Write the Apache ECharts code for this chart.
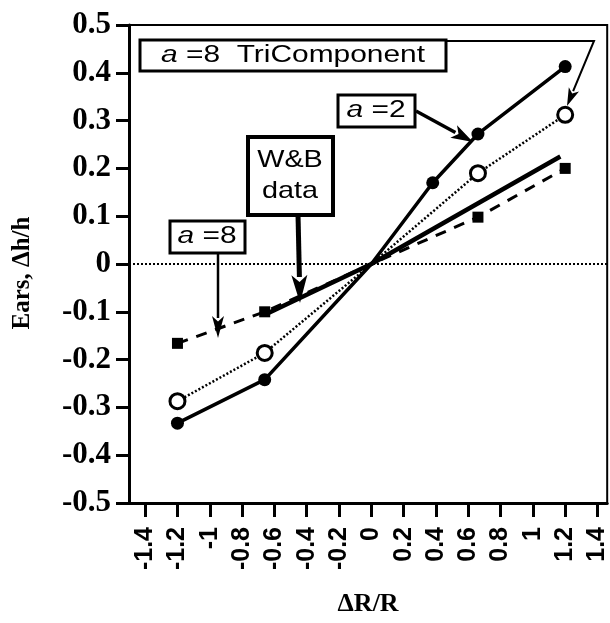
<!DOCTYPE html>
<html>
<head>
<meta charset="utf-8">
<script src="https://cdn.jsdelivr.net/npm/echarts@6/dist/echarts.min.js"></script>
<style>
  html, body { margin: 0; padding: 0; background: #fff; }
  #chart { width: 610px; height: 623px; }
</style>
</head>
<body>
<div id="chart"></div>
<script>
// values
const xTicks = [-1.4, -1.2, -1, -0.8, -0.6, -0.4, -0.2, 0, 0.2, 0.4, 0.6, 0.8, 1, 1.2, 1.4];

// a = 2 (filled circles, solid)
const a2X = [-1.2, -0.66, 0, 0.38, 0.66, 1.2];
const a2Y = [-0.333, -0.242, 0, 0.17, 0.272, 0.413];
// a = 8 (open circles, dotted)
const a8X = [-1.2, -0.66, 0, 0.66, 1.2];
const a8Y = [-0.287, -0.186, 0, 0.19, 0.312];
// W&B data (squares, dashed)
const wbX = [-1.2, -0.66, 0, 0.66, 1.2];
const wbY = [-0.166, -0.1, 0, 0.098, 0.2];
// a = 8 TriComponent (thick solid)
const triX = [-0.66, 0, 1.17];
const triY = [-0.106, 0, 0.225];

const pairs = (xs, ys) => xs.map((x, i) => [x, ys[i]]);
const hideOrigin = size => v => (v[0] === 0 ? 0 : size);

const SANS = "Liberation Sans";
const SERIF = "Liberation Serif";

// arrow: shaft + filled head
function arrow(pts, width, headLen, headW) {
  const n = pts.length;
  const [x1, y1] = pts[n - 2];
  const [x2, y2] = pts[n - 1];
  const len = Math.hypot(x2 - x1, y2 - y1);
  const ux = (x2 - x1) / len, uy = (y2 - y1) / len;
  const bx = x2 - ux * headLen, by = y2 - uy * headLen;
  const shaft = pts.slice(0, n - 1).concat([[bx + ux * 2, by + uy * 2]]);
  return [
    { type: "polyline", shape: { points: shaft }, style: { stroke: "#000", lineWidth: width, fill: null }, z: 20 },
    {
      type: "polygon",
      shape: { points: [[x2, y2], [bx - uy * headW / 2, by + ux * headW / 2], [bx + ux * headLen * 0.25, by + uy * headLen * 0.25], [bx + uy * headW / 2, by - ux * headW / 2]] },
      style: { fill: "#000" },
      z: 20,
    },
  ];
}

function box(x, y, w, h, bw) {
  return { type: "rect", shape: { x, y, width: w, height: h }, style: { fill: "#fff", stroke: "#000", lineWidth: bw }, z: 21 };
}

function label(cx, cy, text, size, sx) {
  return {
    type: "text",
    x: cx,
    y: cy,
    scaleX: sx,
    z: 22,
    style: {
      text,
      x: 0,
      y: 0,
      align: "center",
      verticalAlign: "middle",
      fontFamily: SANS,
      fontSize: size,
      fill: "#000",
      lineHeight: size * 1.3,
      rich: {
        i: { fontStyle: "italic", fontFamily: SANS, fontSize: size, fill: "#000" },
        n: { fontFamily: SANS, fontSize: size, fill: "#000" },
      },
    },
  };
}

const graphics = [].concat(
  // a=8 TriComponent label with bent arrow to open circle
  arrow([[446, 41], [594, 41], [567, 106]], 2, 18, 11),
  [box(140, 40, 306, 31, 3), label(293, 56, "{i|a}{n| =8  TriComponent}", 23, 1.3)],
  // a=2 label
  arrow([[416, 111], [473, 142]], 3.5, 22, 14),
  [box(338, 95, 77, 32, 3), label(376, 111, "{i|a}{n| =2}", 23, 1.3)],
  // W&B data label
  arrow([[298, 214], [300, 303]], 5, 28, 16),
  [box(248, 137, 85, 78, 4), label(290, 176, "W&B\ndata", 24, 1.2)],
  // a=8 label
  arrow([[218, 253], [218, 338]], 2.5, 22, 12),
  [box(170, 221, 75, 32, 3), label(207, 237, "{i|a}{n| =8}", 23, 1.3)]
);

const chart = echarts.init(document.getElementById("chart"), null, { renderer: "canvas" });
chart.setOption({
  backgroundColor: "#fff",
  animation: false,
  grid: {
    left: 129,
    right: 2,
    top: 25,
    bottom: 120,
    show: true,
    borderColor: "#000",
    borderWidth: 2,
  },
  xAxis: {
    type: "value",
    min: -1.5,
    max: 1.46,
    name: "ΔR/R",
    nameLocation: "middle",
    nameGap: 88,
    nameTextStyle: { fontFamily: SERIF, fontWeight: "bold", fontSize: 26, color: "#000" },
    axisLine: { onZero: false, lineStyle: { color: "#000", width: 3 } },
    axisTick: { show: true, length: 14, lineStyle: { color: "#000", width: 3 }, customValues: xTicks },
    axisLabel: {
      rotate: 90,
      margin: 24,
      fontFamily: SANS,
      fontWeight: "bold",
      fontSize: 25,
      color: "#000",
      customValues: xTicks,
    },
    splitLine: { show: false },
  },
  yAxis: {
    type: "value",
    min: -0.5,
    max: 0.5,
    interval: 0.1,
    name: "Ears, Δh/h",
    nameLocation: "middle",
    nameGap: 94,
    nameTextStyle: { fontFamily: SERIF, fontWeight: "bold", fontSize: 25, color: "#000", padding: [0, 18, 0, 0] },
    axisLine: { onZero: false, lineStyle: { color: "#000", width: 3 } },
    axisTick: { show: true, length: 13, lineStyle: { color: "#000", width: 3 } },
    axisLabel: { margin: 18, fontFamily: SERIF, fontWeight: "bold", fontSize: 31, color: "#000" },
    splitLine: { show: false },
  },
  series: [
    {
      name: "TriComponent a=8",
      type: "line",
      data: pairs(triX, triY),
      showSymbol: false,
      symbol: "none",
      lineStyle: { color: "#000", width: 4.5 },
      z: 3,
      markLine: {
        silent: true,
        symbol: "none",
        label: { show: false },
        lineStyle: { color: "#000", width: 2, type: [2, 2] },
        data: [{ yAxis: 0 }],
      },
    },
    {
      name: "W&B data",
      type: "line",
      data: pairs(wbX, wbY),
      symbol: "rect",
      symbolSize: hideOrigin(11),
      itemStyle: { color: "#000" },
      lineStyle: { color: "#000", width: 3, type: [11, 9] },
      z: 4,
    },
    {
      name: "a=2",
      type: "line",
      data: pairs(a2X, a2Y),
      symbol: "circle",
      symbolSize: hideOrigin(13),
      itemStyle: { color: "#000" },
      lineStyle: { color: "#000", width: 3.5 },
      z: 5,
    },
    {
      name: "a=8",
      type: "line",
      data: pairs(a8X, a8Y),
      symbol: "circle",
      symbolSize: hideOrigin(15),
      itemStyle: { color: "#fff", borderColor: "#000", borderWidth: 3 },
      lineStyle: { color: "#000", width: 2.5, type: [2, 2] },
      z: 6,
    },
  ],
  graphic: graphics,
});
</script>
</body>
</html>
